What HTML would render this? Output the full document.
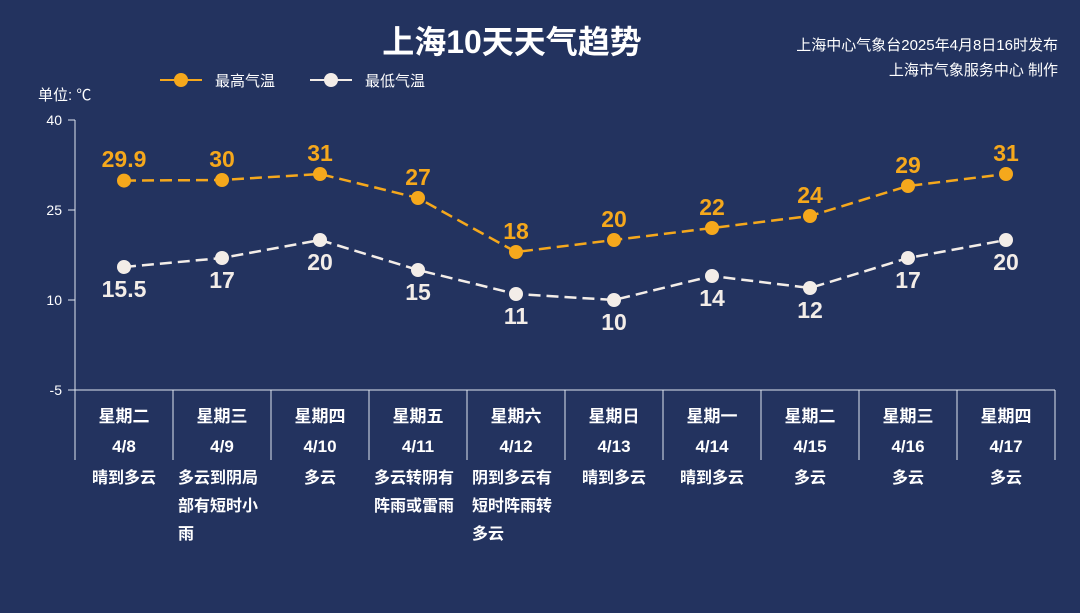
<!DOCTYPE html>
<html><head><meta charset="utf-8"><style>
body{margin:0;width:1080px;height:613px;background:#23335f;overflow:hidden;font-family:"Liberation Sans","Noto Sans CJK SC",sans-serif;}
</style></head><body>
<svg width="1080" height="613" xmlns="http://www.w3.org/2000/svg" style="position:absolute;left:0;top:0;font-family:'Liberation Sans','Noto Sans CJK SC',sans-serif">
<rect width="1080" height="613" fill="#23335f"/>
<text x="512" y="53" fill="#fff" font-size="32" font-weight="bold" text-anchor="middle">上海10天天气趋势</text>
<text x="1058" y="50" fill="#fff" font-size="15" text-anchor="end">上海中心气象台2025年4月8日16时发布</text>
<text x="1058" y="75" fill="#fff" font-size="15" text-anchor="end">上海市气象服务中心 制作</text>
<line x1="160" y1="80" x2="202" y2="80" stroke="#f5a81c" stroke-width="2"/>
<circle cx="181" cy="80" r="7" fill="#f5a81c"/>
<text x="215" y="86" fill="#fff" font-size="15">最高气温</text>
<line x1="310" y1="80" x2="352" y2="80" stroke="#f3ede8" stroke-width="2"/>
<circle cx="331" cy="80" r="7" fill="#f3ede8"/>
<text x="365" y="86" fill="#fff" font-size="15">最低气温</text>
<text x="38" y="100" fill="#fff" font-size="15">单位: ℃</text>
<g fill="#fff" font-size="14" text-anchor="end">
<text x="62" y="125">40</text><text x="62" y="215">25</text><text x="62" y="305">10</text><text x="62" y="395">-5</text></g>
<g stroke="#dfe6ef" stroke-width="1">
<line x1="75" y1="120" x2="75" y2="390"/><line x1="68" y1="120" x2="75" y2="120"/><line x1="68" y1="210" x2="75" y2="210"/><line x1="68" y1="300" x2="75" y2="300"/><line x1="68" y1="390" x2="75" y2="390"/>
<line x1="75" y1="390" x2="1055" y2="390"/>
<line x1="75" y1="390" x2="75" y2="460"/><line x1="173" y1="390" x2="173" y2="460"/><line x1="271" y1="390" x2="271" y2="460"/><line x1="369" y1="390" x2="369" y2="460"/><line x1="467" y1="390" x2="467" y2="460"/><line x1="565" y1="390" x2="565" y2="460"/><line x1="663" y1="390" x2="663" y2="460"/><line x1="761" y1="390" x2="761" y2="460"/><line x1="859" y1="390" x2="859" y2="460"/><line x1="957" y1="390" x2="957" y2="460"/><line x1="1055" y1="390" x2="1055" y2="460"/>
</g>
<polyline fill="none" stroke="#f5a81c" stroke-width="2.5" stroke-dasharray="12,6" points="124,180.6 222,180 320,174 418,198 516,252 614,240 712,228 810,216 908,186 1006,174"/>
<polyline fill="none" stroke="#f3ede8" stroke-width="2.5" stroke-dasharray="12,6" points="124,267 222,258 320,240 418,270 516,294 614,300 712,276 810,288 908,258 1006,240"/>
<g fill="#f5a81c"><circle cx="124" cy="180.6" r="7"/><circle cx="222" cy="180" r="7"/><circle cx="320" cy="174" r="7"/><circle cx="418" cy="198" r="7"/><circle cx="516" cy="252" r="7"/><circle cx="614" cy="240" r="7"/><circle cx="712" cy="228" r="7"/><circle cx="810" cy="216" r="7"/><circle cx="908" cy="186" r="7"/><circle cx="1006" cy="174" r="7"/></g>
<g fill="#f3ede8"><circle cx="124" cy="267" r="7"/><circle cx="222" cy="258" r="7"/><circle cx="320" cy="240" r="7"/><circle cx="418" cy="270" r="7"/><circle cx="516" cy="294" r="7"/><circle cx="614" cy="300" r="7"/><circle cx="712" cy="276" r="7"/><circle cx="810" cy="288" r="7"/><circle cx="908" cy="258" r="7"/><circle cx="1006" cy="240" r="7"/></g>
<g fill="#f5a81c" font-size="23" font-weight="bold" text-anchor="middle">
<text x="124" y="167">29.9</text><text x="222" y="167">30</text><text x="320" y="161">31</text><text x="418" y="185">27</text><text x="516" y="239">18</text><text x="614" y="227">20</text><text x="712" y="215">22</text><text x="810" y="203">24</text><text x="908" y="173">29</text><text x="1006" y="161">31</text></g>
<g fill="#f3ede8" font-size="23" font-weight="bold" text-anchor="middle">
<text x="124" y="297">15.5</text><text x="222" y="288">17</text><text x="320" y="270">20</text><text x="418" y="300">15</text><text x="516" y="324">11</text><text x="614" y="330">10</text><text x="712" y="306">14</text><text x="810" y="318">12</text><text x="908" y="288">17</text><text x="1006" y="270">20</text></g>
<g fill="#fff" font-size="17" font-weight="bold" text-anchor="middle">
<text x="124" y="422">星期二</text><text x="222" y="422">星期三</text><text x="320" y="422">星期四</text><text x="418" y="422">星期五</text><text x="516" y="422">星期六</text><text x="614" y="422">星期日</text><text x="712" y="422">星期一</text><text x="810" y="422">星期二</text><text x="908" y="422">星期三</text><text x="1006" y="422">星期四</text>
<text x="124" y="452">4/8</text><text x="222" y="452">4/9</text><text x="320" y="452">4/10</text><text x="418" y="452">4/11</text><text x="516" y="452">4/12</text><text x="614" y="452">4/13</text><text x="712" y="452">4/14</text><text x="810" y="452">4/15</text><text x="908" y="452">4/16</text><text x="1006" y="452">4/17</text></g>
<g fill="#fff" font-size="16" font-weight="bold">
<text x="124" y="483" text-anchor="middle">晴到多云</text>
<text x="178" y="483">多云到阴局</text><text x="178" y="511">部有短时小</text><text x="178" y="539">雨</text>
<text x="320" y="483" text-anchor="middle">多云</text>
<text x="374" y="483">多云转阴有</text><text x="374" y="511">阵雨或雷雨</text>
<text x="472" y="483">阴到多云有</text><text x="472" y="511">短时阵雨转</text><text x="472" y="539">多云</text>
<text x="614" y="483" text-anchor="middle">晴到多云</text>
<text x="712" y="483" text-anchor="middle">晴到多云</text>
<text x="810" y="483" text-anchor="middle">多云</text>
<text x="908" y="483" text-anchor="middle">多云</text>
<text x="1006" y="483" text-anchor="middle">多云</text></g>
</svg>
</body></html>
